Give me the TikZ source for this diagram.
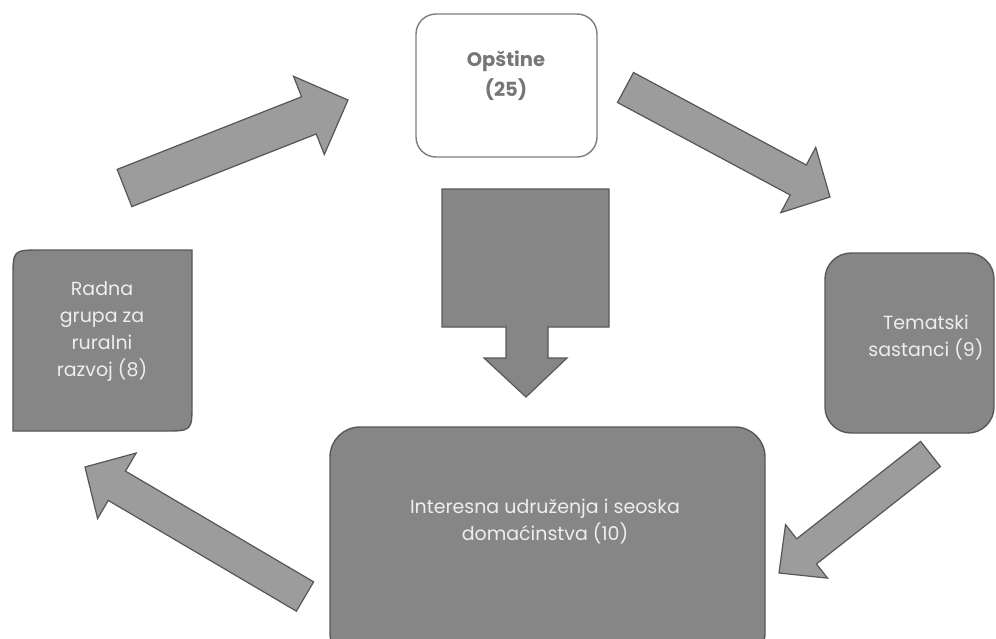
\documentclass[tikz,border=0pt]{standalone}
\usepackage{fontspec}
\setmainfont{Poppins}
\usetikzlibrary{calc}
\definecolor{boxgray}{RGB}{134,134,134}
\definecolor{boxedge}{RGB}{88,88,88}
\definecolor{arrgray}{RGB}{156,156,156}
\definecolor{arredge}{RGB}{86,86,86}
\definecolor{lighttext}{RGB}{238,238,238}
\definecolor{opsedge}{RGB}{125,125,125}
\definecolor{opstextc}{RGB}{118,118,118}
\tikzset{
  darkbox/.style={draw=boxedge, fill=boxgray, line width=1.4pt, rounded corners=26pt, inner sep=0pt},
  whitebox/.style={draw=opsedge, fill=white, line width=1.4pt, rounded corners=20pt, inner sep=0pt},
  lighttxt/.style={text=lighttext, align=center, font=\fontsize{19}{27}\selectfont, inner sep=0pt},
  opstxt/.style={text=opstextc, align=center, font=\fontsize{19.5}{30}\selectfont\bfseries, inner sep=0pt},
  arrsty/.style={draw=arredge, fill=arrgray, line width=1.2pt, line join=miter},
  blocksty/.style={draw=boxedge, fill=boxgray, line width=1.2pt, line join=miter}
}
% tail, tip, half shaft, half head, head length, name
\newcommand\blockarr[6]{%
  \coordinate (#6b) at ($(#2)!#5!(#1)$);
  \draw[arrsty] ($(#1)!#3!90:(#2)$) -- ($(#6b)!#3!90:(#2)$) -- ($(#6b)!#4!90:(#2)$)
    -- (#2) -- ($(#6b)!#4!-90:(#2)$) -- ($(#6b)!#3!-90:(#2)$) -- ($(#1)!#3!-90:(#2)$) -- cycle;
}
\begin{document}
\begin{tikzpicture}[x=1pt,y=-1pt]
\useasboundingbox (0,0) rectangle (996,638);
\fill[white] (0,0) rectangle (996,638);

% Opstine
\node[whitebox, minimum width=181pt, minimum height=143pt] (ops) at (506.5,85.5) {};
\node[opstxt] (opst) at (506,76) {Opštine\\(25)};

% Radna grupa (diagonal rounded corners)
\draw[draw=boxedge, fill=boxgray, line width=1.4pt]
  (41,250) -- (192,250) -- (192,403) .. controls (192,431) .. (164,431)
  -- (13,431) -- (13,278) .. controls (13,250) .. (41,250) -- cycle;
\node[lighttxt] (radna) at (102,331) {Radna\\grupa za\\ruralni\\razvoj (8)};

% Tematski
\node[darkbox, minimum width=169pt, minimum height=180pt] (tem) at (909.5,343) {};
\node[lighttxt] (temt) at (926,337.5) {Tematski\\sastanci (9)};

% Interesna
\node[darkbox, rounded corners=30pt, minimum width=435pt, minimum height=236pt] (int) at (547.5,545) {};
\node[lighttxt] (intt) at (545,521.5) {Interesna udruženja i seoska\\domaćinstva (10)};

% arrow coordinates
\coordinate (a1s) at (124.5,188); \coordinate (a1e) at (348,100);
\coordinate (a2s) at (625.5,87.5); \coordinate (a2e) at (830,197);
\coordinate (a3s) at (930.5,454); \coordinate (a3e) at (779,573);
\coordinate (a4s) at (305,596.5); \coordinate (a4e) at (85,467);

\blockarr{a1s}{a1e}{20pt}{42pt}{42pt}{a1}
\blockarr{a2s}{a2e}{17pt}{37pt}{36pt}{a2}
\blockarr{a3s}{a3e}{16pt}{34pt}{35pt}{a3}
\blockarr{a4s}{a4e}{17pt}{38pt}{37pt}{a4}

% central down block arrow
\draw[blocksty] (442,189) -- (609,189) -- (609,327) -- (548,327) -- (548,358) -- (567,358)
  -- (526,397) -- (484,358) -- (506,358) -- (506,327) -- (442,327) -- cycle;
\end{tikzpicture}
\end{document}
